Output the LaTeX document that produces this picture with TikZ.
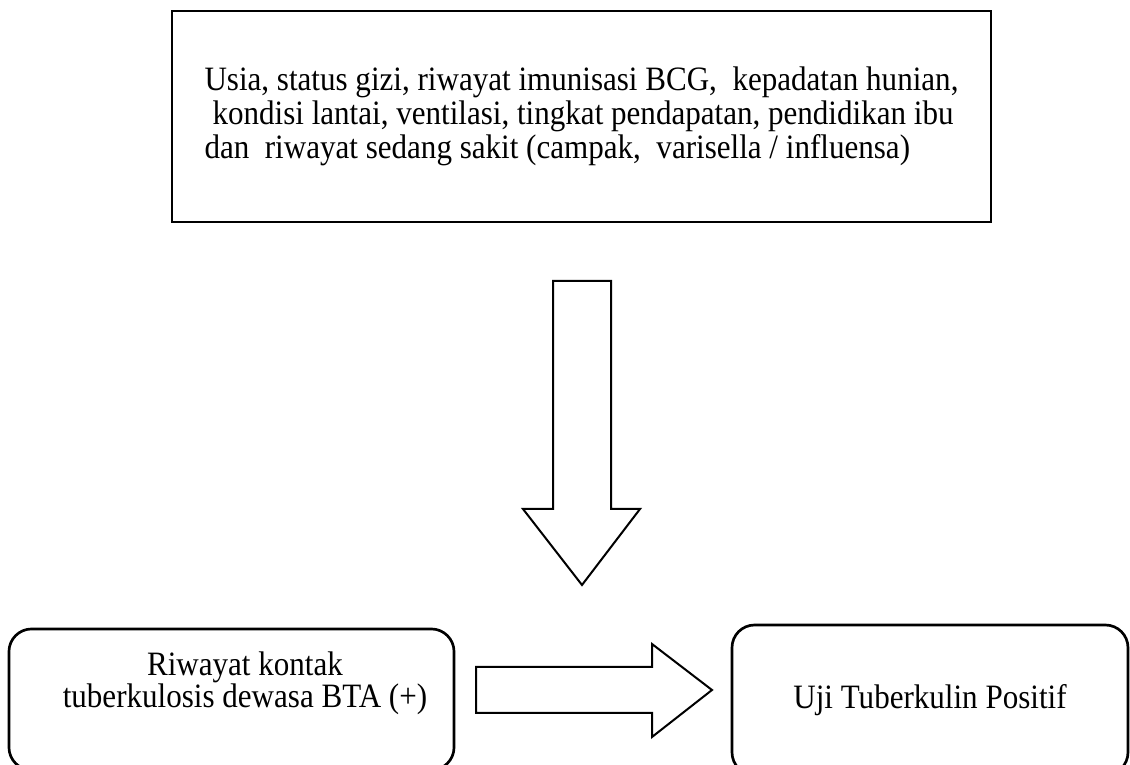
\documentclass[tikz,border=0pt]{standalone}
\usepackage{fontspec}
\setmainfont{Liberation Serif}[FakeStretch=0.91]
\usetikzlibrary{calc}

\begin{document}
\begin{tikzpicture}[
      x=0.375pt, y=-0.375pt,
      kotak/.style={
        draw,
        line width=0.8pt,
        inner sep=0pt
      },
      kotakbulat/.style={
        kotak,
        rounded corners=8.5pt,
        line width=1pt
      },
      teks/.style={
        font=\fontsize{12.8}{12.75}\selectfont
      },
      panah/.style={
        draw,
        line width=0.75pt,
        line join=miter
      }
    ]
    \useasboundingbox (0,0) rectangle (1130,765) ;

    \node[kotak, teks, align=left, minimum width=307.1pt, minimum height=79.1pt] (faktor) at (581.5,116.5)
      {Usia, status gizi, riwayat imunisasi BCG,~ kepadatan hunian,\\
       \hspace*{3pt}kondisi lantai, ventilasi, tingkat pendapatan, pendidikan ibu\\
       dan~ riwayat sedang sakit (campak,~ varisella / influensa)} ;

    \node[kotakbulat, minimum width=166.9pt, minimum height=52.9pt] (kontak) at (231.5,699.5) {} ;
    \node[teks, align=center, inner sep=0pt, font=\fontsize{12.8}{12}\selectfont] (kontakTeks) at (245,683.5)
      {Riwayat kontak\\ tuberkulosis dewasa BTA (+)} ;

    \node[kotakbulat, teks, minimum width=148.5pt, minimum height=56.25pt] (uji) at (930,700)
      {Uji Tuberkulin Positif} ;

    \coordinate (turunAwal) at (582,281) ;
    \coordinate (turunUjung) at (582,585) ;
    \draw[panah] ($(turunAwal)+(-29,0)$) -- ($(turunUjung)+(-29,-76)$)
      -- ($(turunUjung)+(-59,-76)$) -- (turunUjung) -- ($(turunUjung)+(58,-76)$)
      -- ($(turunUjung)+(29,-76)$) -- ($(turunAwal)+(29,0)$) -- cycle ;

    \coordinate (kananAwal) at (476,690) ;
    \coordinate (kananUjung) at (712,690) ;
    \draw[panah] ($(kananAwal)+(0,-23)$) -- ($(kananUjung)+(-60,-23)$)
      -- ($(kananUjung)+(-60,-46)$) -- (kananUjung) -- ($(kananUjung)+(-60,47)$)
      -- ($(kananUjung)+(-60,23)$) -- ($(kananAwal)+(0,23)$) -- cycle ;
  \end{tikzpicture}
\end{document}
